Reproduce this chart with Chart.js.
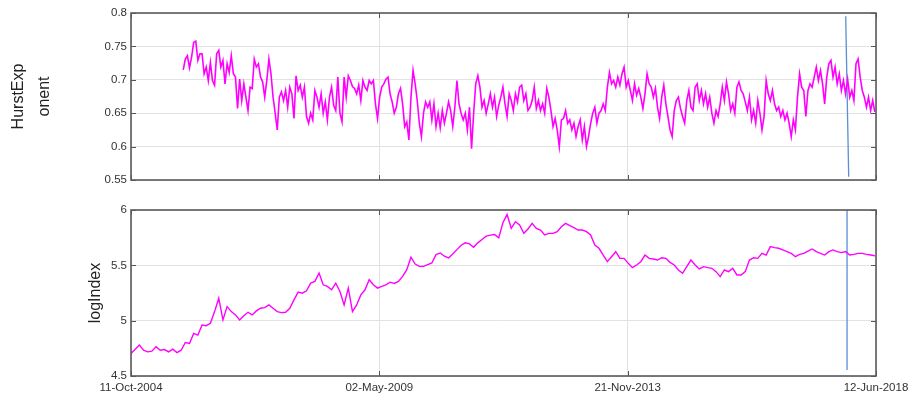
<!DOCTYPE html>
<html>
<head>
<meta charset="utf-8">
<script src="https://cdn.jsdelivr.net/npm/chart.js@4.4.1/dist/chart.umd.min.js"></script>
<style>
  html, body { margin: 0; padding: 0; background: #fff; }
  #wrap { position: relative; width: 910px; height: 399px; }
  #wrap canvas { position: absolute; left: 0; }
  #cTop { top: 0; }
  #cBot { top: 195px; }
</style>
</head>
<body>
<div id="wrap">
  <canvas id="cTop" width="910" height="195"></canvas>
  <canvas id="cBot" width="910" height="204"></canvas>
</div>
<script>
// x axis: days since 11-Oct-2004
const tickDays = [0, 1664, 3328, 4992];
const tickLabels = ['11-Oct-2004', '02-May-2009', '21-Nov-2013', '12-Jun-2018'];

// Hurst exponent, sampled every 14 days starting at day 350
const hurstStartDay = 350;
const hurstStepDays = 14;
const hurstValues = [
  0.715, 0.731, 0.736, 0.718, 0.734, 0.756, 0.758, 0.729, 0.739, 0.739,
  0.709, 0.719, 0.699, 0.726, 0.699, 0.692, 0.739, 0.744, 0.719, 0.729,
  0.694, 0.724, 0.711, 0.736, 0.709, 0.704, 0.657, 0.701, 0.669, 0.694,
  0.674, 0.654, 0.689, 0.687, 0.731, 0.719, 0.724, 0.704, 0.697, 0.674,
  0.699, 0.731, 0.709, 0.674, 0.650, 0.625, 0.674, 0.682, 0.669, 0.684,
  0.659, 0.689, 0.679, 0.642, 0.706, 0.684, 0.692, 0.674, 0.689, 0.645,
  0.635, 0.650, 0.640, 0.684, 0.674, 0.659, 0.679, 0.650, 0.667, 0.640,
  0.674, 0.689, 0.662, 0.654, 0.704, 0.650, 0.637, 0.704, 0.674, 0.706,
  0.699, 0.690,
  0.687, 0.679, 0.692, 0.669, 0.699, 0.689, 0.684, 0.699, 0.694, 0.699,
  0.664, 0.642, 0.674, 0.689, 0.694, 0.701, 0.704, 0.679, 0.667, 0.650,
  0.659, 0.679, 0.687, 0.664, 0.630, 0.637, 0.610, 0.674, 0.714, 0.694,
  0.669, 0.635, 0.615, 0.650, 0.667, 0.659, 0.667, 0.640, 0.664, 0.630,
  0.650, 0.628, 0.654, 0.635, 0.650, 0.667, 0.654, 0.630, 0.659, 0.699,
  0.664, 0.650, 0.640, 0.650, 0.625, 0.659, 0.597, 0.650, 0.694, 0.706,
  0.689, 0.659, 0.669, 0.650, 0.664, 0.679, 0.659, 0.674, 0.645, 0.662,
  0.674, 0.689, 0.664, 0.645, 0.679, 0.669, 0.654, 0.679, 0.667, 0.689,
  0.692, 0.669, 0.679, 0.654,
  0.659, 0.669, 0.689, 0.657, 0.669, 0.654, 0.664, 0.650, 0.687, 0.674,
  0.654, 0.630, 0.642, 0.625, 0.600, 0.640, 0.642, 0.654, 0.635, 0.640,
  0.625, 0.635, 0.615, 0.630, 0.640, 0.610, 0.630, 0.600, 0.615, 0.635,
  0.650, 0.659, 0.635, 0.650, 0.654, 0.664, 0.654, 0.689, 0.711, 0.694,
  0.699, 0.689, 0.704, 0.692, 0.709, 0.719, 0.689, 0.699, 0.684, 0.669,
  0.694, 0.677, 0.687, 0.674, 0.657, 0.679, 0.709, 0.694, 0.689, 0.674,
  0.687, 0.659, 0.642, 0.674, 0.692, 0.664, 0.645, 0.625, 0.615, 0.654,
  0.669, 0.674, 0.657, 0.645, 0.635, 0.669, 0.684, 0.659, 0.654, 0.689,
  0.694, 0.669, 0.684, 0.664,
  0.679, 0.659, 0.674, 0.650, 0.635, 0.654, 0.645, 0.664, 0.689, 0.669,
  0.697, 0.679, 0.654, 0.664, 0.650, 0.689, 0.697, 0.684, 0.679, 0.667,
  0.654, 0.674, 0.640, 0.654, 0.635, 0.669, 0.650, 0.625, 0.645, 0.699,
  0.679, 0.669, 0.684, 0.664, 0.654, 0.659, 0.645, 0.654, 0.640, 0.650,
  0.635, 0.615, 0.640, 0.625, 0.674, 0.709, 0.689, 0.684, 0.645, 0.684,
  0.694, 0.689, 0.704, 0.719, 0.699, 0.714, 0.694, 0.664, 0.704, 0.724,
  0.729, 0.704, 0.719, 0.694, 0.709, 0.684, 0.699, 0.679, 0.701, 0.674,
  0.684, 0.669, 0.724, 0.731, 0.704, 0.684, 0.674, 0.659, 0.674, 0.654,
  0.669, 0.652
];

// log of the index, sampled every 28 days starting at day 0
const logStartDay = 0;
const logStepDays = 28;
const logIndexValues = [
  4.703, 4.742, 4.779, 4.733, 4.718, 4.724, 4.764, 4.733, 4.739, 4.718,
  4.742, 4.712, 4.733, 4.803, 4.794, 4.885, 4.870, 4.961, 4.955, 4.976,
  5.082, 5.203, 5.006, 5.127, 5.082, 5.052, 5.006, 5.045, 5.076, 5.052,
  5.088, 5.112, 5.118, 5.142, 5.112, 5.082, 5.073, 5.076, 5.112, 5.188,
  5.258, 5.248, 5.270, 5.339, 5.355, 5.430, 5.324, 5.309, 5.279, 5.339,
  5.264, 5.142, 5.294, 5.082, 5.142, 5.233, 5.279, 5.370, 5.324, 5.294,
  5.309, 5.324, 5.348, 5.336, 5.355, 5.400, 5.461, 5.573, 5.512, 5.491,
  5.491, 5.506, 5.521, 5.597, 5.612, 5.582, 5.567, 5.603, 5.642, 5.682,
  5.703, 5.694, 5.664, 5.703, 5.733, 5.764, 5.773, 5.779, 5.748, 5.885,
  5.960, 5.834, 5.894, 5.864, 5.789, 5.828, 5.879, 5.834, 5.819, 5.774,
  5.789, 5.789, 5.804, 5.849, 5.879, 5.858, 5.840, 5.819, 5.819, 5.804,
  5.774, 5.684, 5.654, 5.593, 5.533, 5.578, 5.623, 5.563, 5.563, 5.518,
  5.479, 5.503, 5.533, 5.593, 5.563, 5.557, 5.548, 5.569, 5.563, 5.527,
  5.503, 5.458, 5.428, 5.488, 5.548, 5.503, 5.467, 5.488, 5.479, 5.473,
  5.443, 5.398, 5.458, 5.443, 5.473, 5.413, 5.413, 5.443, 5.548, 5.569,
  5.563, 5.608, 5.593, 5.669, 5.660, 5.654, 5.639, 5.624, 5.608, 5.578,
  5.599, 5.608, 5.629, 5.648, 5.624, 5.608, 5.593, 5.624, 5.639, 5.624,
  5.615, 5.624, 5.593, 5.599, 5.608, 5.608, 5.599, 5.593, 5.587
];

// vertical marker lines (day, value) for each panel
const hurstMarkerDays = [4789, 4809];
const hurstMarkerValues = [0.795, 0.555];
const logMarkerDays = [4798, 4798];
const logMarkerValues = [6.0, 4.555];

const FONT = "'Liberation Sans', Arial, Helvetica, sans-serif";
const GRID = '#e2e2e2';
const TEXT = '#333';

function toPoints(start, step, vals) {
  return vals.map((v, i) => ({ x: start + i * step, y: v }));
}
function pairs(xs, ys) {
  return xs.map((x, i) => ({ x: x, y: ys[i] }));
}
function fmt(v) { return String(+Number(v).toFixed(2)); }

// box frame with inward tick marks on all four sides
const boxPlugin = {
  id: 'box',
  afterDraw(chart) {
    const { ctx, chartArea: a, scales } = chart;
    const tl = 5;
    ctx.save();
    ctx.strokeStyle = '#555';
    ctx.lineWidth = 1;
    ctx.beginPath();
    scales.y.ticks.forEach(t => {
      const y = Math.round(scales.y.getPixelForValue(t.value)) + 0.5;
      ctx.moveTo(a.left, y); ctx.lineTo(a.left + tl, y);
      ctx.moveTo(a.right, y); ctx.lineTo(a.right - tl, y);
    });
    scales.x.ticks.forEach(t => {
      const x = Math.round(scales.x.getPixelForValue(t.value)) + 0.5;
      ctx.moveTo(x, a.top); ctx.lineTo(x, a.top + tl);
      ctx.moveTo(x, a.bottom); ctx.lineTo(x, a.bottom - tl);
    });
    ctx.stroke();
    ctx.strokeStyle = '#5a5a5a';
    ctx.lineWidth = 1.6;
    ctx.strokeRect(a.left, a.top, a.right - a.left, a.bottom - a.top);
    ctx.restore();
  }
};

function makeChart(id, cfg) {
  return new Chart(document.getElementById(id), {
    type: 'line',
    data: {
      datasets: [
        {
          data: cfg.series,
          borderColor: '#ff00ff',
          borderWidth: cfg.lineWidth,
          pointRadius: 0,
          tension: 0
        },
        {
          data: cfg.marker,
          borderColor: '#5a8fd5',
          borderWidth: 1.3,
          pointRadius: 0,
          tension: 0
        }
      ]
    },
    options: {
      responsive: false,
      devicePixelRatio: 1,
      animation: false,
      events: [],
      layout: { padding: { left: 0, right: 34, top: cfg.padTop, bottom: 0 } },
      plugins: { legend: { display: false }, tooltip: { enabled: false } },
      scales: {
        x: {
          type: 'linear',
          min: tickDays[0],
          max: tickDays[tickDays.length - 1],
          afterBuildTicks: s => { s.ticks = tickDays.map(v => ({ value: v })); },
          ticks: {
            display: cfg.showX,
            autoSkip: false,
            maxRotation: 0,
            minRotation: 0,
            padding: 5,
            color: TEXT,
            font: { family: FONT, size: 11.5 },
            callback: v => tickLabels[tickDays.indexOf(v)]
          },
          grid: { color: GRID, lineWidth: 1, drawTicks: false },
          border: { display: false },
          afterFit: s => { s.height = cfg.xHeight; s.paddingLeft = 0; s.paddingRight = 0; }
        },
        y: {
          min: cfg.yMin,
          max: cfg.yMax,
          ticks: {
            stepSize: cfg.yStep,
            padding: 4,
            color: TEXT,
            font: { family: FONT, size: 11.5 },
            callback: v => fmt(v)
          },
          grid: { color: GRID, lineWidth: 1, drawTicks: false },
          border: { display: false },
          title: {
            display: true,
            text: cfg.title,
            color: '#222',
            font: { family: FONT, size: 16, lineHeight: 1.65 },
            padding: { top: cfg.titlePad, bottom: 0 }
          },
          afterFit: s => { s.width = 131; s.paddingTop = 0; s.paddingBottom = 0; }
        }
      }
    },
    plugins: [boxPlugin]
  });
}

makeChart('cTop', {
  series: toPoints(hurstStartDay, hurstStepDays, hurstValues),
  marker: pairs(hurstMarkerDays, hurstMarkerValues),
  lineWidth: 1.6,
  padTop: 13,
  xHeight: 15,
  showX: false,
  yMin: 0.55, yMax: 0.8, yStep: 0.05,
  title: ['HurstExp', 'onent'],
  titlePad: 5
});

makeChart('cBot', {
  series: toPoints(logStartDay, logStepDays, logIndexValues),
  marker: pairs(logMarkerDays, logMarkerValues),
  lineWidth: 1.4,
  padTop: 15,
  xHeight: 23,
  showX: true,
  yMin: 4.5, yMax: 6, yStep: 0.5,
  title: 'logIndex',
  titlePad: 82
});
</script>
</body>
</html>
